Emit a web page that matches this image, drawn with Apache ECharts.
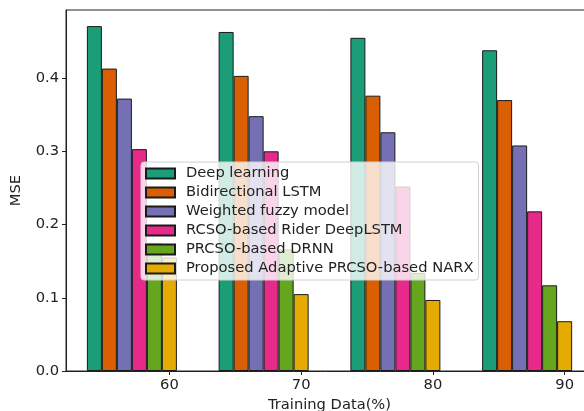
<!DOCTYPE html>
<html>
<head>
<meta charset="utf-8">
<script src="https://cdn.jsdelivr.net/npm/echarts@6/dist/echarts.min.js"></script>
<style>html,body{margin:0;padding:0;background:#fff;}#c{width:584px;height:411px;}</style>
</head>
<body>
<div id="c"></div>
<script>
const categories = ['60', '70', '80', '90'];
const seriesNames = ['Deep learning', 'Bidirectional LSTM', 'Weighted fuzzy model', 'RCSO-based Rider DeepLSTM', 'PRCSO-based DRNN', 'Proposed Adaptive PRCSO-based NARX'];
const deepLearning = [0.471, 0.463, 0.455, 0.438];
const bidirectionalLSTM = [0.413, 0.403, 0.376, 0.370];
const weightedFuzzy = [0.372, 0.348, 0.326, 0.308];
const rcsoRider = [0.303, 0.300, 0.252, 0.218];
const prcsoDRNN = [0.175, 0.166, 0.134, 0.117];
const proposedNARX = [0.155, 0.105, 0.097, 0.068];
const yTicks = [0, 0.1, 0.2, 0.3, 0.4];
const colors = ['#1b9e77', '#d95f02', '#7570b3', '#e7298a', '#66a61e', '#e6ab02'];

const allData = [deepLearning, bidirectionalLSTM, weightedFuzzy, rcsoRider, prcsoDRNN, proposedNARX];
const FONT = 'DejaVu Sans';
const FS = 14.7;
const TXT = '#222';
const BAR_W = 15;
const gridLeft = 66, gridRight = -9;
const plotW = 584 - gridLeft - gridRight;
const band = plotW / categories.length;
// tick labels sit under the last bar of each group
const tickShift = (2.5 * BAR_W) / band;
const xTickValues = categories.map((c, i) => i + tickShift);

const chart = echarts.init(document.getElementById('c'), null, {renderer: 'canvas'});
chart.setOption({
  animation: false,
  backgroundColor: '#fff',
  textStyle: {fontFamily: FONT},
  grid: {left: gridLeft, right: gridRight, top: 10, bottom: 40, show: true, borderColor: TXT, borderWidth: 1,
    backgroundColor: 'transparent', containLabel: false, outerBoundsMode: 'none'},
  legend: {
    orient: 'vertical', left: 141, top: 162,
    itemWidth: 29, itemHeight: 10, itemGap: 4,
    icon: 'rect',
    backgroundColor: 'rgba(255,255,255,0.8)',
    borderColor: '#d0d0d0', borderWidth: 1, borderRadius: 3,
    padding: [4, 5, 4, 4],
    textStyle: {fontFamily: FONT, fontSize: FS, color: TXT, padding: [0, 0, 0, 6]},
    data: seriesNames
  },
  xAxis: [
    {type: 'category', data: categories, show: false, gridIndex: 0},
    {
      type: 'value', min: -0.5, max: categories.length - 0.5, position: 'bottom', gridIndex: 0,
      axisLine: {show: true, onZero: false, lineStyle: {color: TXT, width: 1}},
      axisTick: {show: true, length: 4, inside: false, customValues: xTickValues, lineStyle: {color: TXT}},
      axisLabel: {customValues: xTickValues, fontFamily: FONT, fontSize: FS, color: TXT, margin: 7,
        formatter: v => categories[Math.round(v - tickShift)]},
      splitLine: {show: false},
      name: 'Training Data(%)', nameLocation: 'middle', nameGap: 24,
      nameTextStyle: {fontFamily: FONT, fontSize: FS, color: TXT}
    }
  ],
  yAxis: {
    type: 'value', min: 0, max: 0.493,
    axisLine: {show: true, onZero: false, lineStyle: {color: TXT, width: 1}},
    axisTick: {show: true, length: 4, customValues: yTicks, lineStyle: {color: TXT}},
    axisLabel: {customValues: yTicks, fontFamily: FONT, fontSize: FS, color: TXT, margin: 7,
      formatter: v => v.toFixed(1)},
    splitLine: {show: false},
    name: 'MSE', nameLocation: 'middle', nameGap: 42, nameRotate: 90,
    nameTextStyle: {fontFamily: FONT, fontSize: FS, color: TXT}
  },
  series: seriesNames.map((n, i) => ({
    name: n, type: 'bar', xAxisIndex: 0, yAxisIndex: 0,
    data: allData[i],
    barWidth: BAR_W, barGap: '0%',
    itemStyle: {color: colors[i], borderColor: '#1a1a1a', borderWidth: 1}
  }))
});
</script>
</body>
</html>
